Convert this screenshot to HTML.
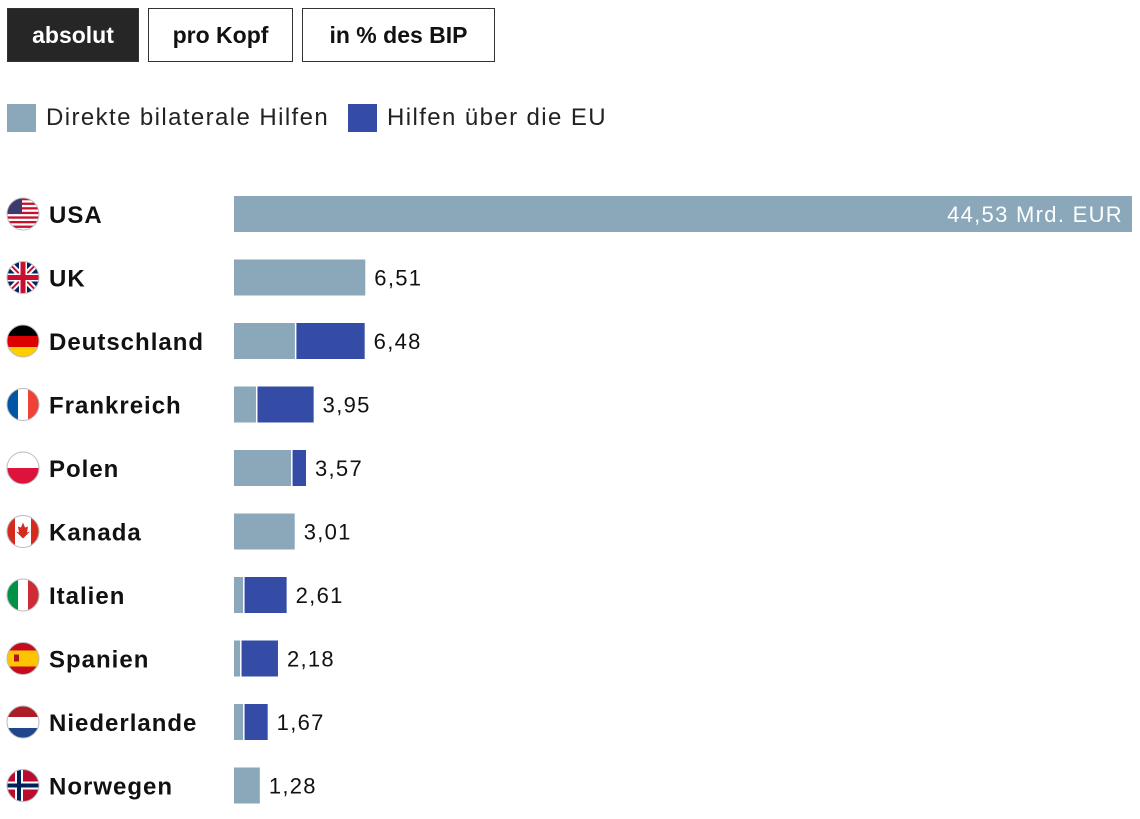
<!DOCTYPE html>
<html><head><meta charset="utf-8"><style>
body{margin:0;width:1140px;height:819px;background:#fff;font-family:"Liberation Sans",sans-serif;overflow:hidden;position:relative}
.btn{position:absolute;top:8px;height:54px;border:1px solid #333;box-sizing:border-box;font-weight:bold;font-size:23px;line-height:52px;text-align:center;color:#111;background:#fff}
.btn.on{background:#262626;color:#fff}
.leg{position:absolute;top:104px;font-size:24px;color:#222;line-height:28px;letter-spacing:1.4px}
.sw{display:inline-block;width:29px;height:28px;vertical-align:top;margin-right:10px}
</style></head><body>
<div class="btn on" style="left:7px;width:132px">absolut</div>
<div class="btn" style="left:148px;width:145px">pro Kopf</div>
<div class="btn" style="left:302px;width:193px">in % des BIP</div>
<div class="leg" style="left:7px"><span class="sw" style="background:#8aa8ba"></span>Direkte bilaterale Hilfen</div>
<div class="leg" style="left:348px"><span class="sw" style="background:#344ca6"></span>Hilfen über die EU</div>
<svg id="chart" width="1140" height="819" style="position:absolute;left:0;top:0"></svg>
<script>
const countries=["USA","UK","Deutschland","Frankreich","Polen","Kanada","Italien","Spanien","Niederlande","Norwegen"];
const bilateral=[44.53,6.51,3.02,1.09,2.83,3.01,0.45,0.30,0.45,1.28];
const eu=[0,0,3.46,2.86,0.74,0,2.16,1.88,1.22,0];
const totals=["44,53 Mrd. EUR","6,51","6,48","3,95","3,57","3,01","2,61","2,18","1,67","1,28"];
const x0=234,xMax=44.53,wMax=898;
const x=v=>x0+v/xMax*wMax;
const rowY=i=>214+i*63.5;
const NS="http://www.w3.org/2000/svg";
const svg=document.getElementById('chart');
function mk(t,a,p){const e=document.createElementNS(NS,t);for(const k in a)e.setAttribute(k,a[k]);(p||svg).appendChild(e);return e;}
const flags={
USA:(g)=>{for(let i=0;i<7;i++)mk('rect',{x:-16,y:-16+i*4.6,width:32,height:2.3,fill:'#c8102e'},g);mk('rect',{x:-16,y:-16,width:15,height:16,fill:'#3c3b6e'},g);},
UK:(g)=>{mk('rect',{x:-16,y:-16,width:32,height:32,fill:'#012169'},g);mk('path',{d:'M-16,-16L16,16M16,-16L-16,16',stroke:'#fff','stroke-width':6},g);mk('path',{d:'M-16,-16L16,16M16,-16L-16,16',stroke:'#c8102e','stroke-width':2},g);mk('rect',{x:-16,y:-4,width:32,height:8,fill:'#fff'},g);mk('rect',{x:-4,y:-16,width:8,height:32,fill:'#fff'},g);mk('rect',{x:-16,y:-2.5,width:32,height:5,fill:'#c8102e'},g);mk('rect',{x:-2.5,y:-16,width:5,height:32,fill:'#c8102e'},g);},
Deutschland:(g)=>{mk('rect',{x:-16,y:-16,width:32,height:11,fill:'#000'},g);mk('rect',{x:-16,y:-5,width:32,height:11,fill:'#dd0000'},g);mk('rect',{x:-16,y:6,width:32,height:11,fill:'#ffce00'},g);},
Frankreich:(g)=>{mk('rect',{x:-16,y:-16,width:11,height:32,fill:'#0055a4'},g);mk('rect',{x:-5,y:-16,width:10,height:32,fill:'#fff'},g);mk('rect',{x:5,y:-16,width:11,height:32,fill:'#ef4135'},g);},
Polen:(g)=>{mk('rect',{x:-16,y:0,width:32,height:16,fill:'#dc143c'},g);},
Kanada:(g)=>{mk('rect',{x:-16,y:-16,width:8,height:32,fill:'#d52b1e'},g);mk('rect',{x:8,y:-16,width:8,height:32,fill:'#d52b1e'},g);mk('path',{d:'M0,-9L2,-4L5,-5L4,1L7,0L0,7L-7,0L-4,1L-5,-5L-2,-4Z',fill:'#d52b1e'},g);},
Italien:(g)=>{mk('rect',{x:-16,y:-16,width:11,height:32,fill:'#009246'},g);mk('rect',{x:5,y:-16,width:11,height:32,fill:'#ce2b37'},g);},
Spanien:(g)=>{mk('rect',{x:-16,y:-16,width:32,height:32,fill:'#c60b1e'},g);mk('rect',{x:-16,y:-8,width:32,height:16,fill:'#ffc400'},g);mk('rect',{x:-9,y:-4,width:5,height:7,fill:'#ad1519'},g);},
Niederlande:(g)=>{mk('rect',{x:-16,y:-16,width:32,height:11,fill:'#ae1c28'},g);mk('rect',{x:-16,y:6,width:32,height:11,fill:'#21468b'},g);},
Norwegen:(g)=>{mk('rect',{x:-16,y:-16,width:32,height:32,fill:'#ba0c2f'},g);mk('rect',{x:-16,y:-4,width:32,height:8,fill:'#fff'},g);mk('rect',{x:-8,y:-16,width:8,height:32,fill:'#fff'},g);mk('rect',{x:-16,y:-2,width:32,height:4,fill:'#00205b'},g);mk('rect',{x:-6,y:-16,width:4,height:32,fill:'#00205b'},g);}
};
mk('defs',{}).innerHTML='<clipPath id="cc"><circle cx="0" cy="0" r="16"/></clipPath>';
countries.forEach((c,i)=>{
  const y=rowY(i);
  const g=mk('g',{transform:`translate(23,${y})`});
  
  
  const inner=mk('g',{'clip-path':'url(#cc)'},g);
  mk('rect',{x:-16,y:-16,width:32,height:32,fill:'#fff'},inner);
  flags[c](inner);
  mk('circle',{cx:0,cy:0,r:16,fill:'none',stroke:'#bbb','stroke-width':1},g);
  const t=mk('text',{x:49,y:y+9,'font-size':24,'font-weight':'bold',fill:'#111','letter-spacing':1});
  t.textContent=c;
  
  
  const b=mk('rect',{x:x0,y:y-18,width:x(bilateral[i])-x0,height:36,fill:'#8aa8ba'});
  
  
  let end=x(bilateral[i]);
  if(eu[i]>0){
    const e=mk('rect',{x:end+1.5,y:y-18,width:x(bilateral[i]+eu[i])-end-1.5,height:36,fill:'#344ca6'});
    
    
    end=x(bilateral[i]+eu[i]);
  }
  const inside=i===0;
  const v=mk('text',{x:inside?end-9:end+9,y:y+8,'font-size':22,fill:inside?'#fff':'#111','text-anchor':inside?'end':'start','letter-spacing':1.3});
  v.textContent=totals[i];
  
  
});
</script>
</body></html>
